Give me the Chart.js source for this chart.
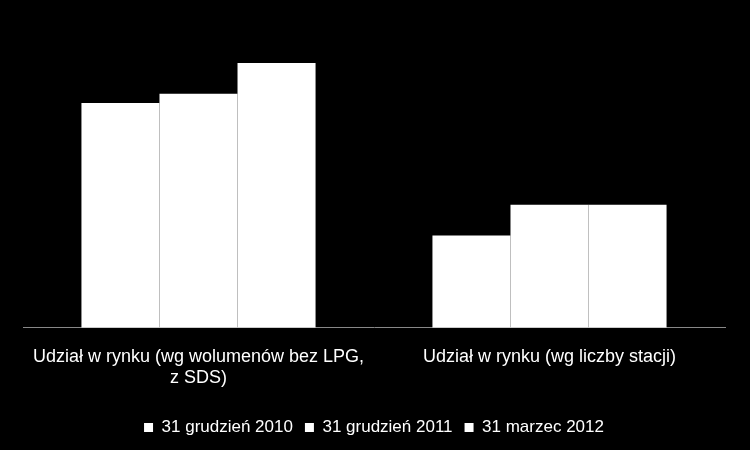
<!DOCTYPE html>
<html><head><meta charset="utf-8">
<script src="https://cdn.jsdelivr.net/npm/chart.js@4/dist/chart.umd.min.js"></script>
<style>html,body{margin:0;background:#000}#w{width:750px;height:450px}</style>
</head><body><div id="w"><canvas id="c"></canvas></div>
<script>
const categories = [["Udział w rynku (wg wolumenów bez LPG,","z SDS)"], "Udział w rynku (wg liczby stacji)"];
const seriesNames = ["31 grudzień 2010", "31 grudzień 2011", "31 marzec 2012"];
const s2010 = [7.3, 3.0];
const s2011 = [7.6, 4.0];
const s2012 = [8.6, 4.0];
new Chart(document.getElementById('c'), {
  type: 'bar',
  data: { labels: categories, datasets: [s2010, s2011, s2012].map((d, i) => ({
    label: seriesNames[i], data: d, backgroundColor: '#fff', borderWidth: 0,
    categoryPercentage: 0.667, barPercentage: 1 })) },
  options: {
    responsive: true, maintainAspectRatio: false, animation: false,
    layout: { padding: { left: 23, right: 25, top: 20, bottom: 4 } },
    plugins: { legend: { position: 'bottom', labels: { color: '#fff', boxWidth: 9, boxHeight: 9,
      font: { family: 'Liberation Sans', size: 17 }, padding: 12 } }, tooltip: { enabled: false } },
    scales: {
      x: { grid: { display: false, drawTicks: false }, border: { color: '#888', width: 1 },
        ticks: { color: '#fff', padding: 18, font: { family: 'Liberation Sans', size: 18 }, maxRotation: 0 } },
      y: { display: false, min: 0, max: 10 }
    }
  }
});
</script></body></html>
